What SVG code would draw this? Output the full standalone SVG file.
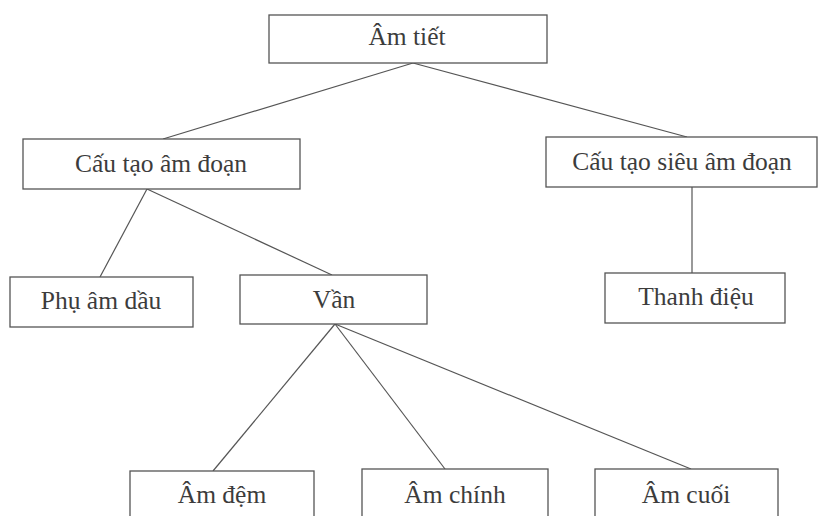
<svg xmlns="http://www.w3.org/2000/svg" width="819" height="516" viewBox="0 0 819 516">
<style>
.box{fill:#fff;stroke:#555;stroke-width:1.3}
.lbl{font-family:"Liberation Serif","Times New Roman",serif;font-size:25.5px;fill:#3c3c3c;text-anchor:middle}
.con{stroke:#555;stroke-width:1.2;fill:none}
</style>
<rect width="819" height="516" fill="#fff"/>
<g id="connectors">
<line class="con" x1="413" y1="63" x2="163" y2="139"/>
<line class="con" x1="413" y1="63" x2="687" y2="137"/>
<line class="con" x1="147" y1="189" x2="100" y2="277"/>
<line class="con" x1="147" y1="189" x2="332" y2="275"/>
<line class="con" x1="692" y1="187" x2="692" y2="273"/>
<line class="con" x1="335" y1="324" x2="213" y2="471"/>
<line class="con" x1="335" y1="324" x2="445" y2="469"/>
<line class="con" x1="335" y1="324" x2="691" y2="469"/>
</g>
<g id="am-tiet"><rect class="box" x="269" y="15" width="278" height="48"/><text class="lbl" x="407" y="45">Âm tiết</text></g>
<g id="cau-tao-am-doan"><rect class="box" x="23" y="139" width="277" height="50"/><text class="lbl" x="161" y="172">Cấu tạo âm đoạn</text></g>
<g id="cau-tao-sieu-am-doan"><rect class="box" x="546" y="137" width="271" height="50"/><text class="lbl" x="682" y="170">Cấu tạo siêu âm đoạn</text></g>
<g id="phu-am-dau"><rect class="box" x="10" y="277" width="183" height="50"/><text class="lbl" x="101" y="309">Phụ âm dầu</text></g>
<g id="van"><rect class="box" x="240" y="275" width="187" height="49"/><text class="lbl" x="334" y="308">Vần</text></g>
<g id="thanh-dieu"><rect class="box" x="605" y="273" width="180" height="50"/><text class="lbl" x="696" y="305">Thanh điệu</text></g>
<g id="am-dem"><rect class="box" x="130" y="471" width="184" height="60"/><text class="lbl" x="222" y="503">Âm đệm</text></g>
<g id="am-chinh"><rect class="box" x="362" y="469" width="186" height="60"/><text class="lbl" x="455" y="503">Âm chính</text></g>
<g id="am-cuoi"><rect class="box" x="595" y="469" width="183" height="60"/><text class="lbl" x="686" y="503">Âm cuối</text></g>
</svg>
